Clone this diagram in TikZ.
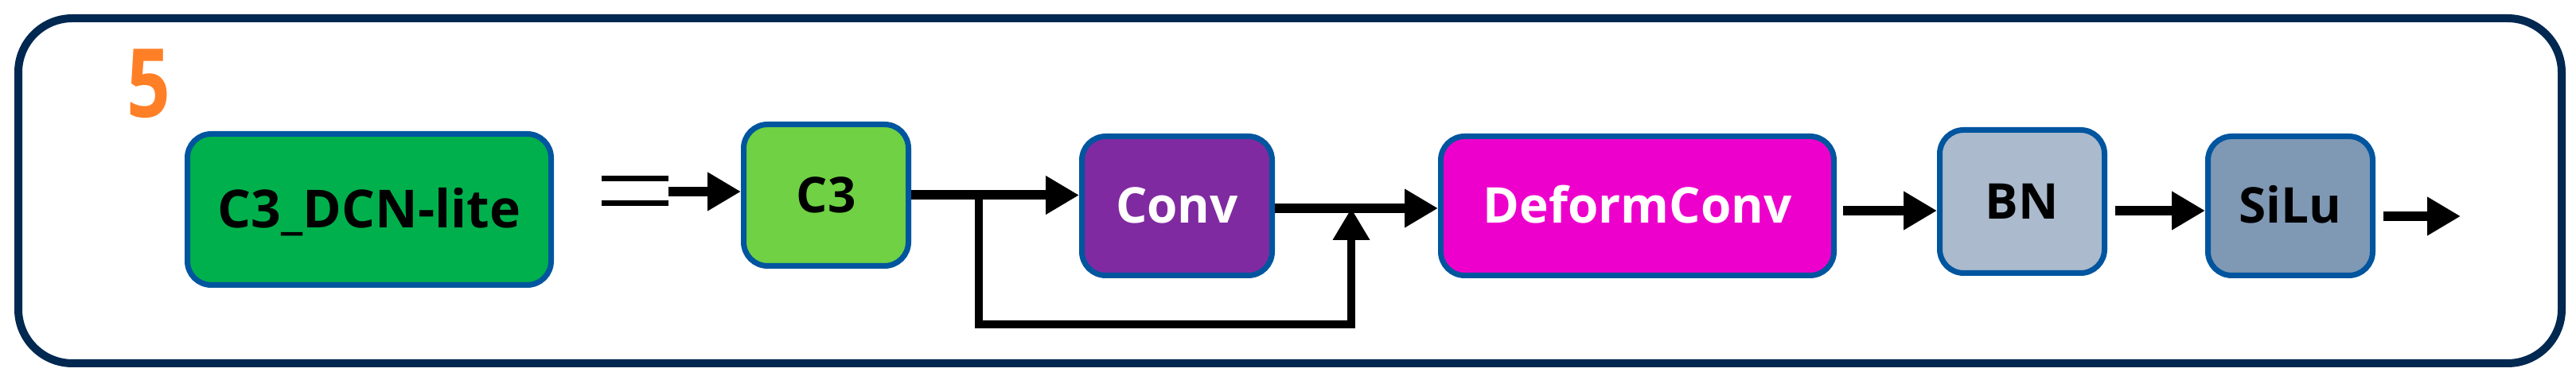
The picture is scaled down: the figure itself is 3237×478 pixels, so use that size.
\documentclass[tikz,border=0pt]{standalone}
\usepackage{fontspec}
\setmainfont{Open Sans}
\usetikzlibrary{arrows.meta,calc}
\definecolor{framecol}{HTML}{002850}
\definecolor{bordercol}{HTML}{00559F}
\definecolor{dcncol}{HTML}{00B04C}
\definecolor{cthreecol}{HTML}{6FD143}
\definecolor{convcol}{HTML}{802AA1}
\definecolor{dcvcol}{HTML}{EE00CC}
\definecolor{bncol}{HTML}{ABBACC}
\definecolor{silucol}{HTML}{7F98B4}
\definecolor{numcol}{HTML}{FF7F27}
\begin{document}
\begin{tikzpicture}[x=0.25pt,y=-0.25pt,
  blk/.style={draw=bordercol, line width=1.75pt, rounded corners=7.5pt,
    inner sep=0pt, text height=11pt, text depth=0pt,
    font=\fontsize{15.5}{18}\selectfont\bfseries},
  arr/.style={-{Triangle[length=10.5pt,width=11.5pt]}, line width=3pt},
  branch/.style={line width=2.6pt},
  eqbar/.style={line width=1.75pt}]
\useasboundingbox (0,0) rectangle (3237,478);
\draw[framecol, line width=2.5pt, rounded corners=17pt] (23,23) rectangle (3219,457);
\node[text=numcol, font=\fontsize{30}{30}\selectfont\bfseries, inner sep=0pt,
  text height=21.5pt, text depth=0pt] (num) at (187,105) {\scalebox{0.8}[1]{5}};
\node[blk, fill=dcncol, minimum width=114.25pt, minimum height=47.5pt,
  text height=11.75pt, font=\fontsize{16.5}{19}\selectfont\bfseries] (dcn) at (464,263.5) {C3\_DCN-lite};
\node[blk, fill=cthreecol, minimum width=51.75pt, minimum height=44.5pt] (c3) at (1038,245.5) {C3};
\node[blk, fill=convcol, text=white, minimum width=59.75pt, minimum height=43.75pt] (conv) at (1479,259) {Conv};
\node[blk, fill=dcvcol, text=white, minimum width=123.5pt, minimum height=43.75pt] (dcv) at (2057.5,259) {DeformConv};
\node[blk, fill=bncol, minimum width=51.75pt, minimum height=45pt] (bn) at (2541,253.5) {BN};
\node[blk, fill=silucol, minimum width=51.75pt, minimum height=43.75pt] (silu) at (2878,259) {SiLu};
% equals sign and input arrow
\coordinate (e1a) at (756,225); \coordinate (e1b) at (840,225);
\coordinate (e2a) at (756,256); \coordinate (e2b) at (840,256);
\draw[eqbar] (e1a) -- (e1b);
\draw[eqbar] (e2a) -- (e2b);
\coordinate (in) at (840,241);
\draw[arr] (in) -- (in -| c3.west);
% main chain
\draw[arr] (c3.east) -- (c3.east -| conv.west);
\coordinate (split) at (1230,245.5);
\coordinate (join) at (1698,262);
\draw[arr] ($(conv.east)+(0,3)$) -- ($(conv.east -| dcv.west)+(0,3)$);
\draw[branch, -{Triangle[length=10pt,width=11pt]}] (split) -- (1230,408) -| (join);
\draw[arr, shorten <=2pt] ($(dcv.east)+(0,6)$) -- ($(dcv.east -| bn.west)+(0,6)$);
\draw[arr, shorten <=2.5pt] ($(bn.east)+(0,11.5)$) -- ($(bn.east -| silu.west)+(0,11.5)$);
\coordinate (out) at (3092,272);
\draw[arr, shorten <=2.5pt] (silu.east |- out) -- (out);
\end{tikzpicture}
\end{document}
